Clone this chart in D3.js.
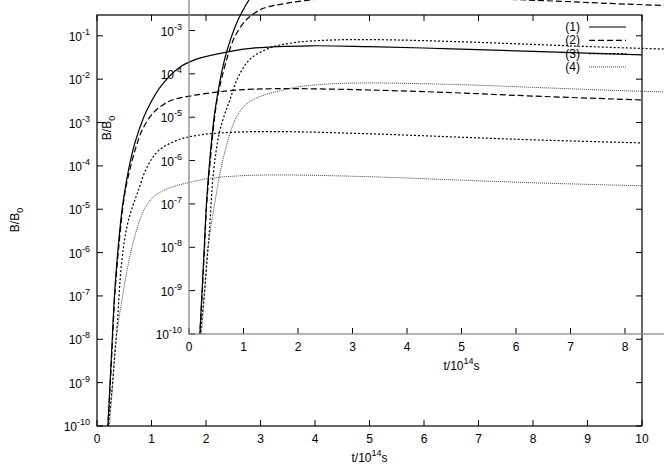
<!DOCTYPE html>
<html>
<head>
<meta charset="utf-8">
<script src="https://cdn.jsdelivr.net/npm/d3@7"></script>
<style>
  body { margin: 0; background: #fff; }
  svg { display: block; font-family: "Liberation Sans", Arial, sans-serif; }
</style>
</head>
<body>
<svg id="chart" width="664" height="465"></svg>
<script>
// t in units of 1e14 s, values are log10(B/B0)
const t1 = [0.18, 0.2, 0.24, 0.28, 0.32, 0.38, 0.46, 0.52, 0.61, 0.7, 0.85, 0.96, 1.18, 1.5, 1.8, 2.4, 2.9, 3.9, 5, 6.5, 8, 10];
const logB1 = [-10.5, -10, -9, -8, -7, -6, -5, -4.5, -3.9, -3.45, -2.9, -2.6, -2.15, -1.74, -1.55, -1.37, -1.28, -1.23, -1.25, -1.3, -1.36, -1.44];

const t2 = [0.18, 0.2, 0.245, 0.285, 0.325, 0.39, 0.47, 0.53, 0.62, 0.72, 0.83, 1.03, 1.2, 1.38, 1.8, 2.4, 2.9, 3.7, 5, 6.5, 8, 10];
const logB2 = [-10.5, -10, -9, -8, -7, -6, -5, -4.5, -4.0, -3.55, -3.17, -2.78, -2.6, -2.48, -2.37, -2.27, -2.23, -2.22, -2.25, -2.31, -2.39, -2.48];

const t3 = [0.19, 0.21, 0.28, 0.33, 0.37, 0.45, 0.55, 0.65, 0.75, 0.9, 1.12, 1.49, 1.93, 2.6, 3.4, 5, 6.5, 8, 10];
const logB3 = [-10.5, -10, -9.1, -8.3, -7.7, -6.25, -5.4, -4.95, -4.6, -4.08, -3.66, -3.4, -3.28, -3.22, -3.21, -3.26, -3.33, -3.4, -3.47];

const t4 = [0.21, 0.23, 0.29, 0.35, 0.47, 0.6, 0.7, 0.8, 0.9, 1.03, 1.2, 1.4, 1.7, 2.0, 2.6, 3.4, 5, 6.5, 8, 10];
const logB4 = [-10.5, -10, -9, -8, -7, -6.1, -5.6, -5.2, -4.93, -4.72, -4.58, -4.48, -4.38, -4.3, -4.23, -4.21, -4.25, -4.32, -4.39, -4.46];

const seriesNames = ['(1)', '(2)', '(3)', '(4)'];
const xTicks = [0, 1, 2, 3, 4, 5, 6, 7, 8, 9, 10];
const yExponents = [-10, -9, -8, -7, -6, -5, -4, -3, -2, -1];

const lineStyles = [
  { dash: null, color: '#000', width: 1.2 },
  { dash: '6,3', color: '#000', width: 1.2 },
  { dash: '2,2', color: '#000', width: 1.2 },
  { dash: '1,1', color: '#444', width: 1 }
];

const series = [[t1, logB1], [t2, logB2], [t3, logB3], [t4, logB4]]
  .map(([ts, ls]) => ts.map((t, i) => ({ t, b: Math.pow(10, ls[i]) })));

const svg = d3.select('#chart');
const x = d3.scaleLinear().domain([0, 10]).range([97, 642]);
const y = d3.scaleLog().domain([1e-10, Math.pow(10, -0.52)]).range([426, 15]);

const drawPanel = (g, id, borderColor) => {
  g.append('clipPath').attr('id', id)
    .append('rect')
    .attr('x', x(0)).attr('y', y.range()[1])
    .attr('width', x(10) - x(0)).attr('height', y.range()[0] - y.range()[1]);

  const line = d3.line()
    .x(d => x(d.t))
    .y(d => y(d.b))
    .curve(d3.curveCatmullRom.alpha(0.5));

  const curves = g.append('g').attr('clip-path', `url(#${id})`);
  series.forEach((pts, i) => {
    curves.append('path')
      .datum(pts)
      .attr('d', line)
      .attr('fill', 'none')
      .attr('stroke', lineStyles[i].color)
      .attr('stroke-width', lineStyles[i].width)
      .attr('stroke-dasharray', lineStyles[i].dash);
  });

  const [yBottom, yTop] = y.range();
  const [xLeft, xRight] = x.range();
  const ticks = g.append('g').attr('stroke', '#000').attr('stroke-width', 1);

  xTicks.forEach(v => {
    ticks.append('line').attr('x1', x(v)).attr('x2', x(v)).attr('y1', yBottom).attr('y2', yBottom - 6);
    ticks.append('line').attr('x1', x(v)).attr('x2', x(v)).attr('y1', yTop).attr('y2', yTop + 6);
    g.append('text')
      .attr('x', x(v)).attr('y', yBottom + 17)
      .attr('text-anchor', 'middle')
      .attr('font-size', 12)
      .text(v);
  });

  yExponents.forEach(e => {
    const yy = y(Math.pow(10, e));
    ticks.append('line').attr('x1', xLeft).attr('x2', xLeft + 6).attr('y1', yy).attr('y2', yy);
    ticks.append('line').attr('x1', xRight).attr('x2', xRight - 6).attr('y1', yy).attr('y2', yy);
    const label = g.append('text')
      .attr('x', xLeft - 7).attr('y', yy + 5)
      .attr('text-anchor', 'end')
      .attr('font-size', 12);
    label.append('tspan').text('10');
    label.append('tspan').attr('dy', -6).attr('font-size', 9).text(e);
  });

  g.append('rect')
    .attr('x', xLeft).attr('y', yTop)
    .attr('width', xRight - xLeft).attr('height', yBottom - yTop)
    .attr('fill', 'none')
    .attr('stroke', borderColor)
    .attr('stroke-width', 1.2);

  const xLabel = g.append('text')
    .attr('x', (xLeft + xRight) / 2).attr('y', 462)
    .attr('text-anchor', 'middle')
    .attr('font-size', 12);
  xLabel.append('tspan').text('t/10');
  xLabel.append('tspan').attr('dy', -6).attr('font-size', 9).text('14');
  xLabel.append('tspan').attr('dy', 6).text('s');

  const yLabel = g.append('text')
    .attr('transform', `translate(19, 220) rotate(-90)`)
    .attr('text-anchor', 'middle')
    .attr('font-size', 12);
  yLabel.append('tspan').text('B/B');
  yLabel.append('tspan').attr('dy', 4).attr('font-size', 9).text('0');

  const legend = g.append('g');
  seriesNames.forEach((name, i) => {
    const ly = 27 + i * 13.3;
    legend.append('text')
      .attr('x', 580).attr('y', ly + 4)
      .attr('text-anchor', 'end')
      .attr('font-size', 12)
      .text(name);
    legend.append('line')
      .attr('x1', 589).attr('x2', 626)
      .attr('y1', ly).attr('y2', ly)
      .attr('stroke', lineStyles[i].color)
      .attr('stroke-width', lineStyles[i].width)
      .attr('stroke-dasharray', lineStyles[i].dash);
  });
};

drawPanel(svg.append('g'), 'clip-main', '#000');
drawPanel(svg.append('g').attr('transform', 'translate(92, -92)'), 'clip-inset', '#808080');
</script>
</body>
</html>
